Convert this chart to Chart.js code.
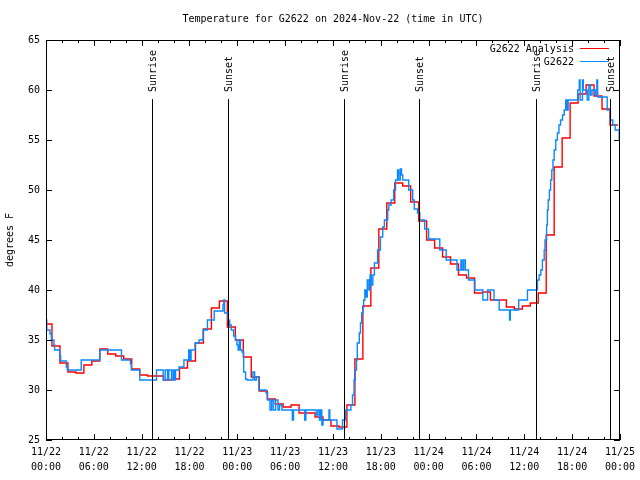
<!DOCTYPE html>
<html>
<head>
<meta charset="utf-8">
<script src="https://cdn.jsdelivr.net/npm/chart.js@4.4.1/dist/chart.umd.min.js"></script>
<style>
html, body { margin: 0; padding: 0; background: #fff; }
</style>
</head>
<body>
<canvas id="chart" width="640" height="480"></canvas>
<script>
// x values are hours since 2024-11-22 00:00 UTC
const xTickLabels = [
    ['11/22', '00:00'], ['11/22', '06:00'], ['11/22', '12:00'], ['11/22', '18:00'],
    ['11/23', '00:00'], ['11/23', '06:00'], ['11/23', '12:00'], ['11/23', '18:00'],
    ['11/24', '00:00'], ['11/24', '06:00'], ['11/24', '12:00'], ['11/24', '18:00'],
    ['11/25', '00:00']
];

// hourly analysis, each value holds from hour-0.25 to hour+0.75
const analysisTemps = [
    36.6, 34.4, 32.7, 31.8, 31.7, 32.5, 32.9, 34.1, 33.6, 33.4, 33.1, 32.1,
    31.5, 31.4, 31.4, 31.0, 31.1, 32.2, 32.9, 34.7, 36.1, 38.2, 38.9, 36.3,
    35.0, 33.3, 31.3, 29.9, 29.1, 28.6, 28.3, 28.5, 27.7, 27.7, 27.3, 27.0,
    26.4, 26.3, 28.5, 33.1, 38.4, 42.2, 46.1, 48.7, 50.7, 50.4, 48.8, 46.9,
    45.0, 44.2, 43.3, 42.6, 41.5, 41.2, 39.7, 39.8, 39.0, 39.0, 38.3, 38.1,
    38.4, 38.7, 39.7, 45.5, 52.3, 55.2, 58.7, 59.6, 60.5, 59.4, 58.1, 56.5
];
const analysisEnd = 71.75;

// station observations
const obsHours = [
    0, 0.1, 0.5, 0.67, 1.0, 1.08, 1.71, 1.84, 2.55, 2.67, 4.42, 6.76, 9.47, 10.6, 10.7, 11.77, 13.86,
    14.7, 14.95, 15.25, 15.4, 15.75, 15.95, 16.1, 16.25, 16.7, 17.3, 17.9, 18.05, 18.2, 18.7,
    19.2, 19.7, 20.25, 21.1, 22.2, 22.3, 22.4, 22.83, 23.04, 23.25, 23.54, 23.79, 23.96, 24.1, 24.25,
    24.4, 24.6, 24.8, 25.04, 25.2, 25.96, 26.17, 26.4, 26.7, 27.6, 27.8, 28.1, 28.3, 28.5,
    28.8, 29.1, 29.3, 29.6,
    30.9, 31.05, 32.45, 32.6, 33.9, 34.1, 34.3, 34.45, 34.6, 34.75, 35.5, 35.6, 36.5, 37.2, 37.6,
    38.25, 38.45, 38.65, 38.8, 38.95, 39.05, 39.3, 39.45, 39.6, 39.75, 39.85, 40.0, 40.15, 40.3,
    40.5, 40.65, 40.8, 41.0, 41.2, 41.6, 41.95, 42.24, 42.45, 42.87, 43.0, 43.29, 43.62,
    43.85, 44.1, 44.25, 44.45, 44.6, 44.75, 45.5, 46.0, 46.2, 46.6, 46.9, 47.5, 48.0, 49.4, 50.2,
    51.55, 52.05, 52.2, 52.4, 52.6, 53.0, 53.8, 54.8, 55.4, 56.2, 56.85, 58.15, 58.25,
    59.3, 60.4, 61.65, 61.86, 62.07, 62.27, 62.5, 62.6, 62.8, 62.9, 63.0, 63.15, 63.3, 63.45, 63.6,
    63.75, 63.95, 64.15, 64.35, 64.55, 64.8, 65.0, 65.2, 65.35, 65.5, 66.7, 66.9, 67.0, 67.3, 67.4,
    67.9, 68.1, 68.3, 68.5, 68.9, 69.1, 69.2, 70.4, 70.8, 71.1, 71.4, 71.9, 72
];
const obsTemps = [
    37.0, 36.0, 35.6, 35.0, 34.5, 34.0, 33.4, 32.9, 32.3, 32.0, 33.0, 34.0, 33.0, 32.6, 32.0, 31.0, 32.0,
    31.0, 32.0, 31.0, 32.0, 31.0, 32.0, 31.0, 32.0, 32.3, 33.0, 34.0, 33.0, 34.0, 34.7,
    35.0, 36.0, 37.0, 37.9, 38.5, 39.0, 37.7, 37.0, 36.5, 36.0, 35.4, 35.0, 34.5, 34.0, 35.0,
    34.0, 33.8, 31.8, 31.1, 31.0, 31.8, 31.0, 31.3, 30.0, 29.7, 29.0, 28.0, 29.0, 28.0,
    29.0, 28.0, 28.5, 28.0,
    27.0, 28.0, 27.0, 28.0, 27.5, 28.0, 27.0, 28.0, 26.5, 27.0, 28.0, 27.0, 26.1, 27.0, 28.0,
    28.5, 29.5, 31.0, 32.0, 33.0, 34.7, 35.7, 36.7, 37.7, 38.3, 39.0, 40.0, 39.3, 41.0,
    40.0, 41.5, 40.5, 41.5, 42.7, 44.0, 45.3, 46.3, 47.0, 48.0, 48.5, 49.0, 50.0,
    51.0, 52.0, 51.0, 52.1, 51.5, 51.0, 50.0, 49.0, 48.1, 47.7, 47.0, 46.1, 45.1, 44.0, 43.0,
    42.0, 43.0, 42.0, 43.0, 42.0, 41.0, 40.0, 39.0, 40.0, 39.0, 38.0, 37.0, 38.0,
    39.0, 40.0, 41.0, 41.5, 42.0, 43.0, 44.0, 45.0, 46.5, 48.0, 49.0, 50.0, 51.0, 52.0, 53.0,
    54.0, 55.0, 55.7, 56.5, 57.0, 57.5, 58.0, 59.0, 58.0, 59.0, 60.0, 61.0, 59.0, 61.0, 60.0,
    59.0, 60.5, 59.5, 60.0, 59.5, 61.0, 59.3, 58.0, 57.0, 56.5, 56.0, 55.1, 55.1
];

const sunHours = [13.31, 22.83, 37.36, 46.75, 61.44, 70.79];
const sunLabels = ['Sunrise', 'Sunset', 'Sunrise', 'Sunset', 'Sunrise', 'Sunset'];

const FONT = '10px "DejaVu Sans Mono", "Liberation Mono", monospace';
const RED = '#ff0000';
const BLUE = '#0a88ff';

const analysisPoints = analysisTemps.map((v, i) => ({ x: Math.max(0, i - 0.25), y: v }));
analysisPoints.push({ x: analysisEnd, y: analysisTemps[analysisTemps.length - 1] });
const obsPoints = obsHours.map((h, i) => ({ x: h, y: obsTemps[i] }));

// gnuplot-like frame: inward ticks, border, title, key, sunrise/sunset markers
const gnuplotFrame = {
    id: 'gnuplotFrame',
    afterDatasetsDraw(chart) {
        const { ctx, chartArea: a, scales: { x, y } } = chart;
        ctx.save();
        ctx.strokeStyle = '#000';
        ctx.fillStyle = '#000';
        ctx.lineWidth = 1;
        ctx.font = FONT;

        sunHours.forEach((h, i) => {
            const px = Math.round(x.getPixelForValue(h)) + 0.5;
            ctx.beginPath();
            ctx.moveTo(px, a.top + 59);
            ctx.lineTo(px, a.bottom);
            ctx.stroke();
            ctx.save();
            ctx.translate(px + 1, a.top + 52);
            ctx.rotate(-Math.PI / 2);
            ctx.textAlign = 'left';
            ctx.textBaseline = 'middle';
            ctx.fillText(sunLabels[i], 0, 0);
            ctx.restore();
        });

        // ticks
        ctx.beginPath();
        for (let h = 0; h <= 72; h += 2) {
            const px = Math.round(x.getPixelForValue(h)) + 0.5;
            const len = h % 6 === 0 ? 6 : 3;
            ctx.moveTo(px, a.bottom); ctx.lineTo(px, a.bottom - len);
            ctx.moveTo(px, a.top); ctx.lineTo(px, a.top + len);
        }
        for (let v = 25; v <= 65; v += 5) {
            const py = Math.round(y.getPixelForValue(v)) + 0.5;
            ctx.moveTo(a.left, py); ctx.lineTo(a.left + 6, py);
            ctx.moveTo(a.right, py); ctx.lineTo(a.right - 6, py);
        }
        ctx.stroke();

        // border
        ctx.strokeRect(Math.round(a.left) + 0.5, Math.round(a.top) + 0.5,
            Math.round(a.right - a.left) - 1, Math.round(a.bottom - a.top) - 1);

        // title
        ctx.textAlign = 'center';
        ctx.textBaseline = 'middle';
        ctx.fillText('Temperature for G2622 on 2024-Nov-22 (time in UTC)', (a.left + a.right) / 2, 19);

        // key
        const keys = [['G2622 Analysis', RED], ['G2622', BLUE]];
        keys.forEach(([label, color], i) => {
            const ky = a.top + 9 + i * 13;
            ctx.fillStyle = '#000';
            ctx.textAlign = 'right';
            ctx.fillText(label, a.right - 46, ky);
            ctx.strokeStyle = color;
            ctx.beginPath();
            ctx.moveTo(a.right - 40, ky - 0.5);
            ctx.lineTo(a.right - 11, ky - 0.5);
            ctx.stroke();
        });
        ctx.restore();
    }
};

Chart.defaults.font.family = '"DejaVu Sans Mono", "Liberation Mono", monospace';
Chart.defaults.font.size = 10;
Chart.defaults.color = '#000';

new Chart(document.getElementById('chart'), {
    type: 'line',
    data: {
        datasets: [
            {
                label: 'G2622',
                data: obsPoints,
                borderColor: BLUE,
                borderWidth: 1.4,
                stepped: true,
                pointRadius: 0,
                fill: false
            },
            {
                label: 'G2622 Analysis',
                data: analysisPoints,
                borderColor: RED,
                borderWidth: 1.4,
                stepped: true,
                pointRadius: 0,
                fill: false
            }
        ]
    },
    options: {
        responsive: false,
        animation: false,
        layout: { padding: { top: 40, right: 19, left: 0, bottom: 0 } },
        plugins: {
            legend: { display: false },
            tooltip: { enabled: false },
            title: { display: false }
        },
        scales: {
            x: {
                type: 'linear',
                min: 0,
                max: 72,
                grid: { display: false, drawTicks: false },
                border: { display: false },
                afterFit: (s) => { s.height = 40; },
                ticks: {
                    stepSize: 6,
                    autoSkip: false,
                    maxRotation: 0,
                    padding: 5,
                    font: { lineHeight: 1.5 },
                    callback: (v) => xTickLabels[Math.round(v / 6)]
                }
            },
            y: {
                min: 25,
                max: 65,
                grid: { display: false, drawTicks: false },
                border: { display: false },
                afterFit: (s) => { s.width = 46; },
                title: { display: true, text: 'degrees F', padding: { top: 4, bottom: 4 } },
                ticks: { stepSize: 5, padding: 6 }
            }
        }
    },
    plugins: [gnuplotFrame]
});
</script>
</body>
</html>
